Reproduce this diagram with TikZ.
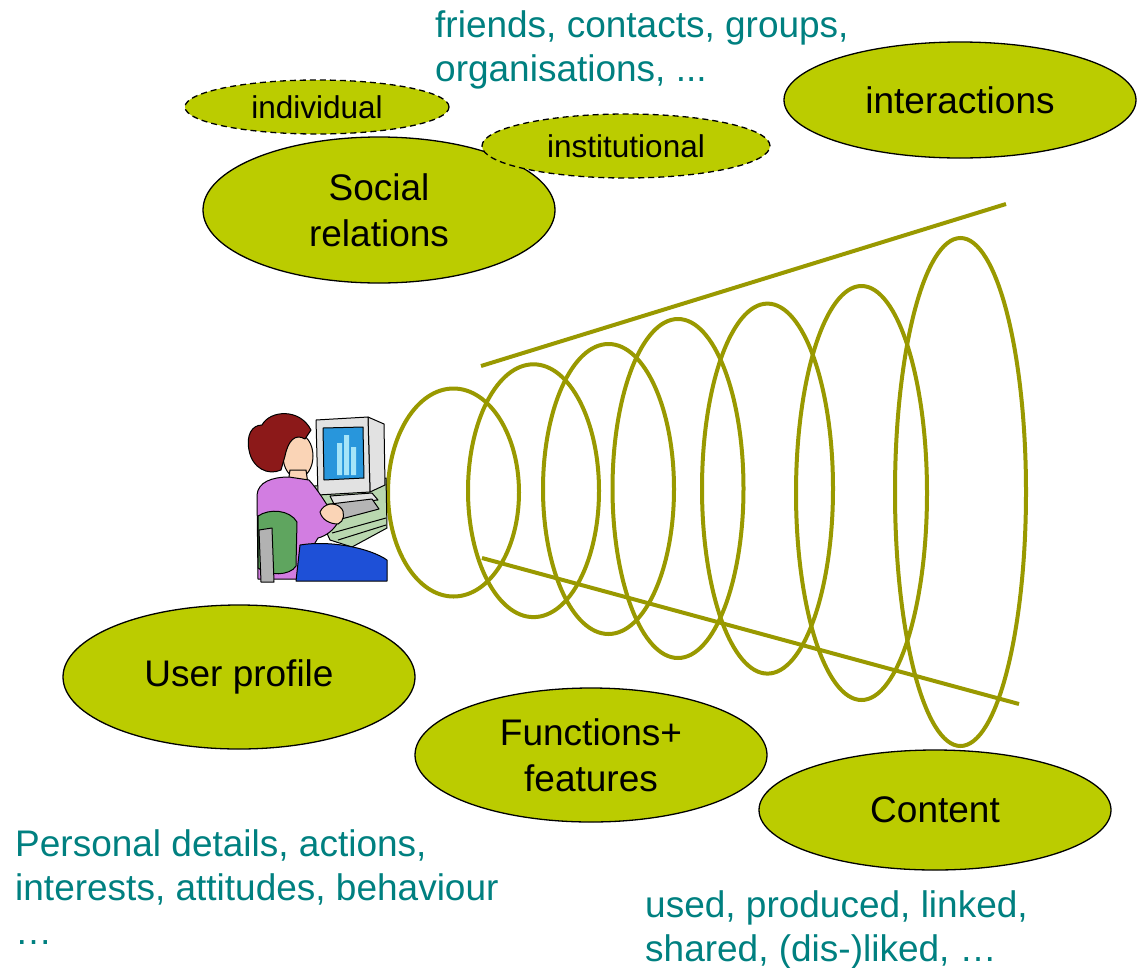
\documentclass[tikz,border=0pt]{standalone}
\usepackage{fontspec}
\setmainfont{Liberation Sans}
\usetikzlibrary{shapes.geometric}
\definecolor{lime}{RGB}{187,204,0}
\definecolor{olivering}{RGB}{153,153,0}
\definecolor{tealtext}{RGB}{0,128,128}
\definecolor{hair}{RGB}{140,25,25}
\definecolor{skin}{RGB}{250,212,182}
\definecolor{shirt}{RGB}{210,125,225}
\definecolor{chair}{RGB}{95,165,95}
\definecolor{pants}{RGB}{30,80,215}
\definecolor{casing}{RGB}{226,226,226}
\definecolor{screen}{RGB}{40,150,220}
\definecolor{bars}{RGB}{165,228,248}
\definecolor{desk}{RGB}{185,215,175}
\tikzset{
  bubble/.style={ellipse,draw=black,line width=1.3pt,fill=lime,inner sep=0pt,align=center,font=\fontsize{37}{46}\selectfont},
  subbubble/.style={bubble,dash pattern=on 6pt off 4pt,font=\fontsize{31.5}{38}\selectfont},
  note/.style={text=tealtext,align=left,anchor=north west,inner sep=0pt,font=\fontsize{37}{44}\selectfont},
  ring/.style={draw=olivering,line width=4pt},
  clip art/.style={draw=black,line width=1pt,line join=round},
}
\begin{document}
\begin{tikzpicture}[x=1pt,y=-1pt]
\useasboundingbox (0,0) rectangle (1143,967);

\node[subbubble,minimum width=264pt,minimum height=54pt] (individual) at (317,107) {individual};
\node[bubble,minimum width=352pt,minimum height=146pt] (social) at (379,210) {Social\\relations};
\node[subbubble,minimum width=288pt,minimum height=64pt] (institutional) at (626,146) {institutional};
\node[bubble,minimum width=352pt,minimum height=116pt] (interactions) at (960,100) {interactions};
\node[bubble,minimum width=352pt,minimum height=144pt] (profile) at (239,677) {User profile};
\node[bubble,minimum width=352pt,minimum height=134pt] (functions) at (591,755) {Functions+\\features};
\node[bubble,minimum width=352pt,minimum height=120pt] (content) at (935,810) {Content};

\foreach \cx/\cy/\ry in {453.5/492.5/104, 533.5/490.7/126.4, 608.5/489/145, 678/488.5/169.5,
                         767.5/488.6/185, 861.5/493/207, 960.5/492/254}
  \draw[ring] (\cx,\cy) ellipse [x radius=65.5, y radius=\ry];
\draw[ring] (481,366) -- (1006,204);
\draw[ring] (482,558) -- (1019,704);

\node[note] (friends) at (435,10) {friends, contacts, groups,\\organisations, ...};
\node[note] (details) at (15,829) {Personal details, actions,\\interests, attitudes, behaviour\\…};
\node[note] (uses) at (645,890) {used, produced, linked,\\shared, (dis-)liked, …};

\begin{scope}[clip art]
\filldraw[fill=desk] (306,487) -- (386,478) -- (387,528) -- (352,547) -- (330,540) -- cycle;
\draw (332,533) -- (386,518) (338,540) -- (386,525);
\filldraw[fill=casing] (368,417) -- (384,424) -- (385,485) -- (370,492) -- cycle;
\filldraw[fill=casing] (316,420) -- (368,417) -- (370,492) -- (318,495) -- cycle;
\filldraw[fill=screen] (323,428) -- (363,427) -- (364,478) -- (324,480) -- cycle;
\fill[bars] (337,443) rectangle (342,475) (344,435) rectangle (349,475) (351,447) rectangle (356,475);
\filldraw[fill=casing] (330,496) -- (372,493) -- (378,500) -- (334,504) -- cycle;
\filldraw[fill=casing!80!black] (322,505) -- (372,499) -- (379,509) -- (330,522) -- cycle;
\filldraw[fill=skin] (298,456) ellipse [x radius=15, y radius=22];
\filldraw[fill=skin] (290,470) -- (306,470) -- (308,484) -- (288,484) -- cycle;
\filldraw[fill=shirt] (257,495) .. controls (258,482) and (272,477) .. (289,477)
  -- (309,480) .. controls (318,490) and (325,502) .. (331,511) -- (338,522)
  .. controls (334,530) and (326,536) .. (318,538) -- (306,558) -- (300,579) -- (258,579) -- cycle;
\filldraw[fill=skin] (320,512) .. controls (324,503) and (334,502) .. (340,507)
  .. controls (346,512) and (344,522) .. (338,524) .. controls (330,524) and (322,520) .. cycle;
\filldraw[fill=hair] (262,425) .. controls (270,410) and (300,408) .. (311,430) -- (305,439)
  .. controls (295,433) and (288,441) .. (285,456) -- (281,470)
  .. controls (268,476) and (252,468) .. (249,450) .. controls (246,435) and (252,425) .. (262,425);
\filldraw[fill=pants] (300,545) .. controls (330,540) and (370,548) .. (387,560) -- (387,581) -- (296,581) -- cycle;
\filldraw[fill=chair] (258,516) .. controls (270,508) and (290,510) .. (297,522)
  -- (296,566) .. controls (290,576) and (268,576) .. (258,568) -- cycle;
\filldraw[fill=gray!60] (259,530) -- (272,528) -- (274,582) -- (261,582) -- cycle;
\end{scope}

\end{tikzpicture}
\end{document}
